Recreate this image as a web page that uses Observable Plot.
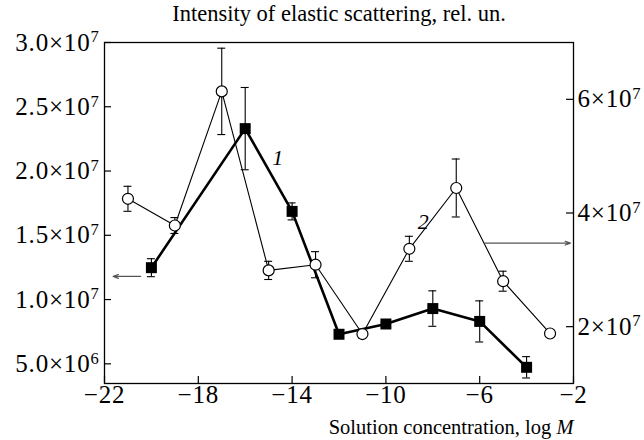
<!DOCTYPE html>
<html><head><meta charset="utf-8">
<script src="https://cdn.jsdelivr.net/npm/d3@7"></script>
<script src="https://cdn.jsdelivr.net/npm/@observablehq/plot@0.6"></script>
<style>body{margin:0;background:#fff} svg{display:block}</style>
</head><body><div id="chart"></div>
<script>
// Series 1: filled squares, thick line, left axis
const conc1 = [-20, -16, -14, -12, -10, -8, -6, -4];
const int1 = [1.248e7, 2.33e7, 1.686e7, 7.3e6, 8.1e6, 9.3e6, 8.3e6, 4.73e6];
const err1 = [7.0e5, 3.2e6, 6.6e5, 0, 3.0e5, 1.38e6, 1.6e6, 8.3e5];
// Series 2: open circles, thin line, right axis
const conc2 = [-21, -19, -17, -15, -13, -11, -9, -7, -5, -3];
const int2 = [4.25e7, 3.78e7, 6.14e7, 2.99e7, 3.09e7, 1.87e7, 3.37e7, 4.44e7, 2.8e7, 1.88e7];
const err2 = [2.2e6, 1.4e6, 7.6e6, 1.6e6, 2.3e6, 7.0e5, 2.2e6, 5.1e6, 1.76e6, 0];
// Axes
const xTicks = [-22, -18, -14, -10, -6, -2];
const leftTicks = [5e6, 1e7, 1.5e7, 2e7, 2.5e7, 3e7];
const leftTickLabels = ["5.0×10^6", "1.0×10^7", "1.5×10^7", "2.0×10^7", "2.5×10^7", "3.0×10^7"];
const rightTicks = [2e7, 4e7, 6e7];
const rightTickLabels = ["2×10^7", "4×10^7", "6×10^7"];
const leftDomain = [3.47e6, 3.0e7];
const rightDomain = [1e7, 7e7];
const xDomain = [-22, -2];
const titleText = "Intensity of elastic scattering, rel. un.";
const xLabelText = "Solution concentration, log M";
// Annotations
const curveLabels = ["1", "2"];
const curveLabelX = [-14.61, -8.41];
const curveLabelY = [2.1e7, 3.84e7];
const curveLabelAxis = ["left", "right"];
const arrowX1 = [-20.46, -5.8];
const arrowX2 = [-21.63, -2.13];
const arrowY = [1.18e7, 3.47e7];
const arrowAxis = ["left", "right"];

const toLeft = v => leftDomain[0] + (v - rightDomain[0]) / (rightDomain[1] - rightDomain[0]) * (leftDomain[1] - leftDomain[0]);
const onAxis = (v, a) => a === "right" ? toLeft(v) : v;

const W = 644, H = 440, mL = 104, mR = 71, mT = 42, mB = 57;
const fw = W - mL - mR, fh = H - mT - mB, tickLen = 7, cap = 0.17;

const s1 = conc1.map((x, i) => ({x, y: int1[i], lo: int1[i] - err1[i], hi: int1[i] + err1[i], e: err1[i]}));
const s2 = conc2.map((x, i) => ({x, y: toLeft(int2[i]), lo: toLeft(int2[i] - err2[i]), hi: toLeft(int2[i] + err2[i]), e: err2[i]}));
const s1e = s1.filter(d => d.e > 0), s2e = s2.filter(d => d.e > 0);
const arrows = arrowY.map((y, i) => ({x1: arrowX1[i], x2: arrowX2[i], y: onAxis(y, arrowAxis[i])}));
const labels = curveLabels.map((t, i) => ({t, x: curveLabelX[i], y: onAxis(curveLabelY[i], curveLabelAxis[i])}));

const errMarks = (data, w) => [
  Plot.ruleX(data, {x: "x", y1: "lo", y2: "hi", stroke: "black", strokeWidth: w}),
  Plot.ruleY(data, {y: "hi", x1: d => d.x - cap, x2: d => d.x + cap, stroke: "black", strokeWidth: w}),
  Plot.ruleY(data, {y: "lo", x1: d => d.x - cap, x2: d => d.x + cap, stroke: "black", strokeWidth: w})
];

const tickFontSize = 25;

const chart = Plot.plot({
  width: W, height: H,
  marginLeft: mL, marginRight: mR, marginTop: mT, marginBottom: mB,
  x: {domain: xDomain, axis: null},
  y: {domain: leftDomain, axis: null},
  style: {fontFamily: "'Liberation Serif', 'Times New Roman', serif", background: "white", color: "black"},
  marks: [
    Plot.frame({stroke: "black", strokeWidth: 1.3}),
    Plot.tickY(leftTicks, {y: d => d, insetRight: fw - tickLen, stroke: "black", strokeWidth: 1.2}),
    Plot.tickY(rightTicks, {y: d => toLeft(d), insetLeft: fw - tickLen, stroke: "black", strokeWidth: 1.2}),
    Plot.tickX(xTicks, {x: d => d, insetTop: fh - tickLen, stroke: "black", strokeWidth: 1.2}),
    Plot.text(leftTicks, {y: d => d, text: (d, i) => leftTickLabels[i], frameAnchor: "left", lineAnchor: "middle", textAnchor: "end", dx: -5, fontSize: tickFontSize}),
    Plot.text(rightTicks, {y: d => toLeft(d), text: (d, i) => rightTickLabels[i], frameAnchor: "right", lineAnchor: "middle", textAnchor: "start", dx: 4, fontSize: tickFontSize}),
    Plot.text(xTicks, {x: d => d, text: d => (d < 0 ? "\u2212" : "") + Math.abs(d), frameAnchor: "bottom", lineAnchor: "top", dy: 2, fontSize: tickFontSize}),
    Plot.text([titleText], {text: d => d, frameAnchor: "top", lineAnchor: "bottom", dy: -22, fontSize: 22.5}),
    Plot.text([xLabelText], {text: d => d, frameAnchor: "bottom-right", textAnchor: "end", lineAnchor: "bottom", dy: 50, fontSize: 20.5}),
    Plot.line(s1, {x: "x", y: "y", stroke: "black", strokeWidth: 2.6}),
    Plot.line(s2, {x: "x", y: "y", stroke: "black", strokeWidth: 1.1}),
    ...errMarks(s2e, 1.1),
    Plot.dot(s2, {x: "x", y: "y", r: 5.5, fill: "white", stroke: "black", strokeWidth: 1.2}),
    ...errMarks(s1e, 1.1),
    Plot.dot(s1, {x: "x", y: "y", symbol: "square", r: 6.2, fill: "black", stroke: "none"}),
    Plot.arrow(arrows, {x1: "x1", x2: "x2", y1: "y", y2: "y", stroke: "#555", strokeWidth: 1.2, headLength: 7, headAngle: 40}),
    Plot.text(labels, {x: "x", y: "y", text: "t", fontSize: 22, fontStyle: "italic"})
  ]
});

chart.querySelectorAll(`g[font-size="${tickFontSize}"]`).forEach(g => g.setAttribute("letter-spacing", "0.8"));

d3.select(chart).selectAll("text").each(function () {
  const t = this.textContent;
  if (t.includes("^")) {
    const [a, b] = t.split("^");
    this.textContent = a;
    d3.select(this).append("tspan").attr("dy", "-0.5em").attr("font-size", "0.66em").text(b);
  } else if (t === xLabelText) {
    this.textContent = "Solution concentration, log ";
    d3.select(this).append("tspan").attr("font-style", "italic").text("M");
  }
});

document.getElementById("chart").appendChild(chart);
</script>
</body></html>
